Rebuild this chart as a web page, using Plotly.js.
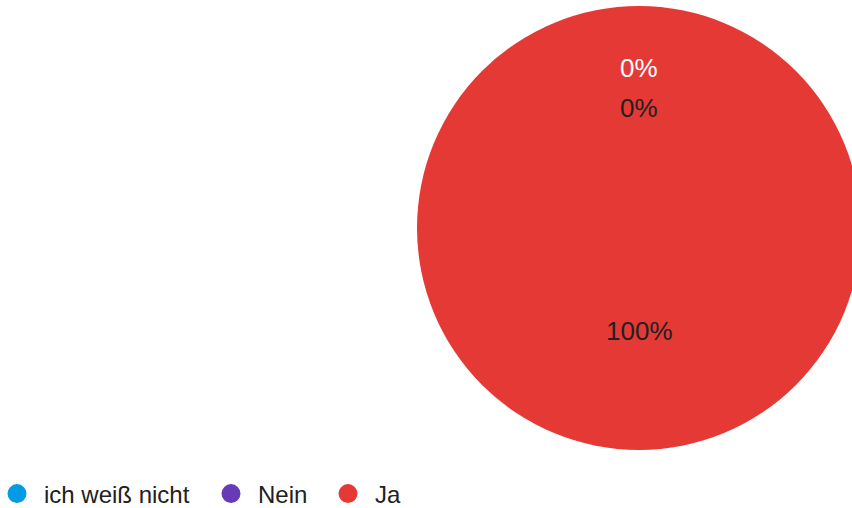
<!DOCTYPE html>
<html>
<head>
<meta charset="utf-8">
<script src="https://cdn.plot.ly/plotly-3.0.1.min.js"></script>
<style>
html,body{margin:0;padding:0;overflow:hidden;background:#fff;}
#chart{width:890px;height:508px;margin-left:-20px;}
</style>
</head>
<body>
<div id="chart"></div>
<script>
const categories = ["ich weiß nicht", "Nein", "Ja"];
const values = [0, 0, 100];
const colors = ["#039be5", "#673ab7", "#e53935"];
const labelColors = ["#ffffff", "#212121", "#212121"];

const OFF = 20;            // paper is shifted 20px left of the page
const W = 890, H = 508;
const cx = 639 + OFF, cy = 228, r = 222;

const total = values.reduce((a, b) => a + b, 0);
const pct = values.map(v => Math.round(v / total * 100) + "%");

const pie = {
  type: "pie",
  labels: categories,
  values: values,
  sort: false,
  direction: "clockwise",
  rotation: 0,
  marker: {colors: colors, line: {width: 0}},
  textinfo: "none",
  hoverinfo: "label+percent",
  showlegend: false,
  domain: {x: [(cx - r) / W, (cx + r) / W], y: [(H - cy - r) / H, (H - cy + r) / H]}
};

const legendNames = ["legend", "legend2", "legend3"];
const legendTraces = categories.map((c, i) => ({
  type: "scatter",
  mode: "markers",
  x: [null], y: [null],
  name: c,
  legend: legendNames[i],
  marker: {color: colors[i], size: 20, symbol: "circle", line: {color: colors[i], width: 3}},
  hoverinfo: "skip",
  showlegend: true
}));

// label radii (fraction of radius, upward positive) per slice
const labelOffsets = [0.72, 0.54, -0.465];
const annotations = categories.map((c, i) => ({
  xref: "paper", yref: "paper",
  x: cx / W, y: (H - cy + labelOffsets[i] * r) / H,
  xanchor: "center", yanchor: "middle",
  text: pct[i], showarrow: false,
  font: {family: "Liberation Sans, Arial, sans-serif", size: 26, color: labelColors[i]}
}));

const legendX = [17, 231, 348];
function legendCfg(px) {
  return {
    orientation: "h",
    x: (px - 27 + OFF) / W, xanchor: "left",
    y: 14 / H, yanchor: "middle",
    font: {family: "Liberation Sans, Arial, sans-serif", size: 24, color: "#212121"},
    itemwidth: 44,
    bgcolor: "rgba(0,0,0,0)"
  };
}

const layout = {
  width: W, height: H,
  margin: {l: 0, r: 0, t: 0, b: 0, autoexpand: false},
  paper_bgcolor: "#ffffff",
  plot_bgcolor: "rgba(0,0,0,0)",
  font: {family: "Liberation Sans, Arial, sans-serif", color: "#212121"},
  xaxis: {visible: false, domain: [0, 0.01]},
  yaxis: {visible: false, domain: [0, 0.01]},
  showlegend: true,
  legend: legendCfg(legendX[0]),
  legend2: legendCfg(legendX[1]),
  legend3: legendCfg(legendX[2]),
  annotations: annotations
};

Plotly.newPlot("chart", [pie, ...legendTraces], layout, {displayModeBar: false, staticPlot: true});
</script>
</body>
</html>
